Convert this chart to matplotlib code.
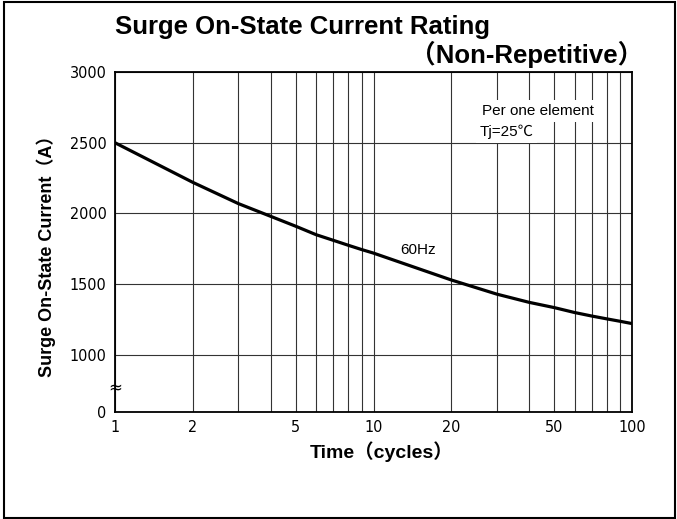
import matplotlib
matplotlib.use("Agg")
import matplotlib.pyplot as plt
from matplotlib import font_manager
from matplotlib.font_manager import FontProperties
from matplotlib.patches import Rectangle
from matplotlib.ticker import FixedLocator, NullFormatter

# surge current vs. time (60Hz)
cycles = [1, 2, 3, 4, 5, 6, 7, 8, 9, 10, 20, 30, 40, 50, 60, 70, 80, 90, 100]
current = [2500, 2220, 2070, 1980, 1910, 1850, 1810, 1775, 1745, 1720,
           1530, 1430, 1372, 1335, 1300, 1275, 1255, 1238, 1222]

x_ticks = [1, 2, 5, 10, 20, 50, 100]
x_minor = [3, 4, 6, 7, 8, 9, 30, 40, 60, 70, 80, 90]
y_ticks = [1000, 1500, 2000, 2500, 3000]
y_zero = 597  # broken axis: position where "0" is drawn

FONT = ['Liberation Sans', 'Noto Sans CJK JP', 'DejaVu Sans']
plt.rcParams['font.family'] = FONT


def narrow_font():
    # tick digits in the datasheet are a condensed gothic; use one if installed
    for f in font_manager.fontManager.ttflist:
        if f.name == 'Liberation Sans Narrow' and f.weight in (400, 'normal') and f.style == 'normal':
            return FontProperties(fname=f.fname)
    for f in font_manager.fontManager.ttflist:
        if f.name in ('DejaVu Sans', 'Noto Sans', 'Open Sans', 'Roboto') \
                and 'ondensed' in str(f.stretch) + f.fname and f.style == 'normal' \
                and f.weight in (400, 'normal'):
            return FontProperties(fname=f.fname)
    return None


tick_fp = narrow_font()

W, H = 677, 519
fig = plt.figure(figsize=(W / 100, H / 100), dpi=100)
ax = fig.add_axes([115 / W, (H - 412) / H, (632 - 115) / W, (412 - 72) / H])

ax.plot(cycles, current, color='black', lw=2.3, solid_capstyle='butt', zorder=3)

ax.set_xscale('log')
ax.set_xlim(1, 100)
ax.set_ylim(y_zero, 3000)
ax.xaxis.set_major_locator(FixedLocator(x_ticks))
ax.xaxis.set_minor_locator(FixedLocator(x_minor))
ax.xaxis.set_minor_formatter(NullFormatter())
ax.set_xticklabels([str(v) for v in x_ticks])
ax.set_yticks([y_zero] + y_ticks)
ax.set_yticklabels(['0'] + [str(v) for v in y_ticks])
ax.tick_params(which='both', length=0, pad=6)
for lab in ax.get_xticklabels() + ax.get_yticklabels():
    if tick_fp is not None:
        lab.set_fontproperties(tick_fp)
        lab.set_fontsize(11.5)
    else:
        lab.set_fontsize(11)

ax.grid(True, which='both', axis='x', color='#333333', lw=0.8)
ax.grid(True, which='major', axis='y', color='#333333', lw=0.8)
ax.set_axisbelow(True)
for s in ax.spines.values():
    s.set_linewidth(1.3)

# axis break mark
ax.text(0, 774, '≈', transform=ax.get_yaxis_transform(), ha='center', va='center',
        fontsize=12, family=['DejaVu Sans'], zorder=5)

ax.text(0.552, 0.476, '60Hz', transform=ax.transAxes, ha='left', va='center', fontsize=11)

box = dict(facecolor='white', edgecolor='none', pad=2.8)
ax.text(0.71, 0.885, 'Per one element', transform=ax.transAxes, ha='left', va='center',
        fontsize=11, bbox=box, zorder=4)
ax.text(0.705, 0.823, 'Tj=25℃', transform=ax.transAxes, ha='left', va='center',
        fontsize=11, bbox=box, zorder=4)

ax.set_xlabel('Time（cycles）', fontsize=14, fontweight='bold')
ax.xaxis.set_label_coords(0.515, -0.085)
ax.set_ylabel('Surge On-State Current（A）', fontsize=13, fontweight='bold')
ax.yaxis.set_label_coords(-0.115, 0.47)

fig.text(115 / W, 1 - 34 / H, 'Surge On-State Current Rating', ha='left', va='baseline',
         fontsize=18.5, fontweight='bold')
fig.text(643 / W, 1 - 63 / H, '（Non-Repetitive）', ha='right', va='baseline',
         fontsize=18.5, fontweight='bold')

fig.patches.append(Rectangle((4 / W, 1 / H), (W - 6) / W, (H - 3) / H, transform=fig.transFigure,
                             fill=False, edgecolor='black', lw=1.5))

fig.savefig('out.png', dpi=100)
